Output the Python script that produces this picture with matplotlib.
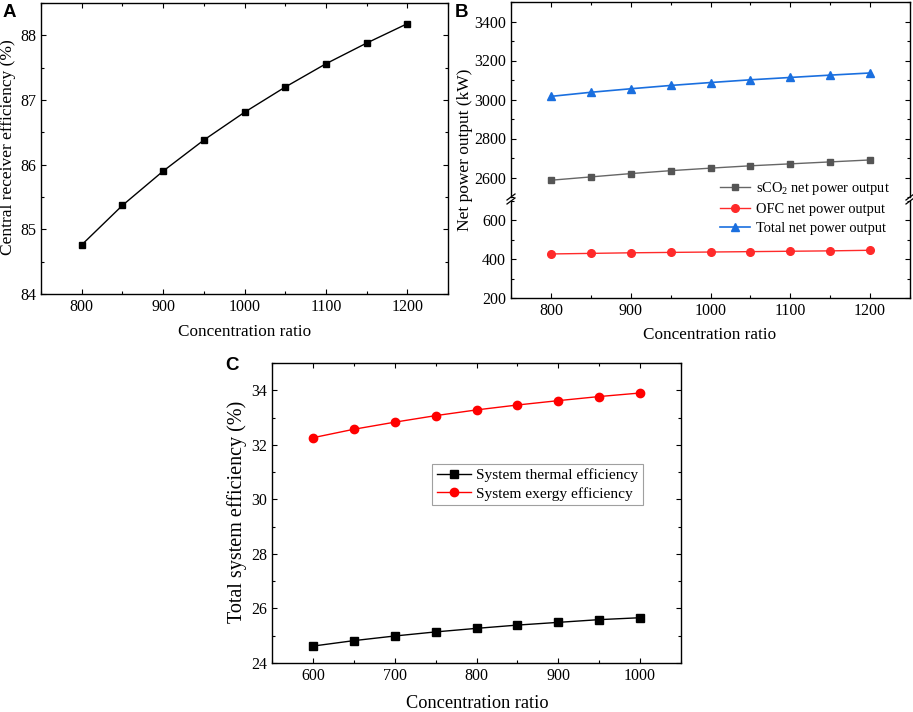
import matplotlib
matplotlib.use("Agg")
import matplotlib.pyplot as plt
from matplotlib.ticker import MultipleLocator
from matplotlib.lines import Line2D

plt.rcParams['font.family'] = ['Liberation Serif', 'DejaVu Serif']
plt.rcParams['mathtext.fontset'] = 'custom'
plt.rcParams['mathtext.rm'] = 'Liberation Serif'
plt.rcParams['mathtext.it'] = 'Liberation Serif:italic'

# ---- data ----
cr_a = [800, 850, 900, 950, 1000, 1050, 1100, 1150, 1200]
receiver_eff = [84.76, 85.37, 85.90, 86.38, 86.81, 87.20, 87.56, 87.88, 88.18]

cr_b = [800, 850, 900, 950, 1000, 1050, 1100, 1150, 1200]
sco2_power = [2586, 2603, 2620, 2635, 2648, 2660, 2670, 2680, 2690]
ofc_power = [427, 430, 433, 435, 437, 439, 441, 443, 446]
total_power = [3016, 3037, 3055, 3072, 3087, 3101, 3113, 3125, 3136]

cr_c = [600, 650, 700, 750, 800, 850, 900, 950, 1000]
thermal_eff = [24.62, 24.82, 24.99, 25.14, 25.27, 25.39, 25.49, 25.59, 25.66]
exergy_eff = [32.26, 32.57, 32.83, 33.07, 33.28, 33.46, 33.62, 33.77, 33.90]

W, H = 913, 712
fig = plt.figure(figsize=(W / 100, H / 100), dpi=100)


def rect(l, r, t, b):
    return [l / W, 1 - b / H, (r - l) / W, (b - t) / H]


TICK_FS = 11.5


def style(ax, top=True, bottom=True):
    ax.tick_params(which='both', direction='in', top=top, bottom=bottom,
                   right=True, left=True, labelsize=TICK_FS, width=0.8)
    ax.tick_params(which='major', length=3.8)
    ax.tick_params(which='minor', length=2.2)
    for s in ax.spines.values():
        s.set_linewidth(1.0)


# ---- panel A ----
axA = fig.add_axes(rect(41, 448, 3, 294))
axA.plot(cr_a, receiver_eff, color='black', lw=1.0, marker='s', ms=4.5)
axA.set_xlim(750, 1250)
axA.set_ylim(84, 88.5)
axA.xaxis.set_major_locator(MultipleLocator(100))
axA.xaxis.set_minor_locator(MultipleLocator(50))
axA.yaxis.set_major_locator(MultipleLocator(1))
axA.yaxis.set_minor_locator(MultipleLocator(0.5))
style(axA)
fig.text(8 / W, 1 - 147 / H, 'Central receiver efficiency (%)', rotation=90,
         ha='center', va='center', fontsize=12.5)
fig.text(245 / W, 1 - 332 / H, 'Concentration ratio', ha='center', va='center',
         fontsize=12.3)
fig.text(3 / W, 1 - 4 / H, 'A', ha='left', va='top', fontsize=13.5,
         fontweight='bold', family='Liberation Sans')

# ---- panel B (broken axis) ----
axBu = fig.add_axes(rect(511, 910, 2, 197))
axBl = fig.add_axes(rect(511, 910, 201, 298))
gray = '#555555'
red = '#ff2a2a'
blue = '#1a6fdf'
for ax in (axBu, axBl):
    ax.plot(cr_b, sco2_power, color='#666666', lw=1.0, marker='s', ms=5,
            mfc=gray, mec=gray)
    ax.plot(cr_b, ofc_power, color=red, lw=1.0, marker='o', ms=5.5)
    ax.plot(cr_b, total_power, color=blue, lw=1.2, marker='^', ms=6)
    ax.set_xlim(750, 1250)
    ax.xaxis.set_major_locator(MultipleLocator(100))
    ax.xaxis.set_minor_locator(MultipleLocator(50))
    ax.yaxis.set_major_locator(MultipleLocator(200))
    ax.yaxis.set_minor_locator(MultipleLocator(100))
axBu.set_ylim(2500, 3500)
axBl.set_ylim(200, 700)
axBu.spines['bottom'].set_visible(False)
axBl.spines['top'].set_visible(False)
style(axBu, top=True, bottom=False)
style(axBl, top=False, bottom=True)
axBu.tick_params(labelbottom=False)
# break marks
for xp in (511, 910):
    for dy in (-2, 2):
        y0 = 199 + dy
        fig.add_artist(Line2D([(xp - 4) / W, (xp + 4) / W],
                              [1 - (y0 + 3) / H, 1 - (y0 - 3) / H],
                              color='black', lw=0.9))
leg_handles = [
    Line2D([], [], color='#666666', lw=1.0, marker='s', ms=5, mfc=gray, mec=gray),
    Line2D([], [], color=red, lw=1.0, marker='o', ms=5.5),
    Line2D([], [], color=blue, lw=1.2, marker='^', ms=6),
]
leg_labels = [r'sCO$_2$ net power output', 'OFC net power output',
              'Total net power output']
fig.legend(leg_handles, leg_labels, loc='upper left',
           bbox_to_anchor=(720 / W, 1 - 180 / H), frameon=False,
           fontsize=10.4, handlelength=2.1, handletextpad=0.4,
           labelspacing=0.42, borderaxespad=0, borderpad=0)
fig.text(465 / W, 1 - 150 / H, 'Net power output (kW)', rotation=90,
         ha='center', va='center', fontsize=12.5)
fig.text(710 / W, 1 - 335 / H, 'Concentration ratio', ha='center', va='center',
         fontsize=12.3)
fig.text(455 / W, 1 - 4 / H, 'B', ha='left', va='top', fontsize=13.5,
         fontweight='bold', family='Liberation Sans')

# ---- panel C ----
axC = fig.add_axes(rect(272, 681, 363, 663))
axC.plot(cr_c, thermal_eff, color='black', lw=1.0, marker='s', ms=5.5,
         label='System thermal efficiency')
axC.plot(cr_c, exergy_eff, color='#ff0000', lw=1.0, marker='o', ms=6,
         label='System exergy efficiency')
axC.set_xlim(550, 1050)
axC.set_ylim(24, 35)
axC.xaxis.set_major_locator(MultipleLocator(100))
axC.xaxis.set_minor_locator(MultipleLocator(50))
axC.yaxis.set_major_locator(MultipleLocator(2))
axC.yaxis.set_minor_locator(MultipleLocator(1))
style(axC)
legC = axC.legend(loc='upper left', bbox_to_anchor=((432 - 272) / 409, (663 - 464) / 300),
                  fontsize=11.1, frameon=True, fancybox=False, edgecolor='#888888',
                  handlelength=2.2, handletextpad=0.35, labelspacing=0.28,
                  borderpad=0.3, borderaxespad=0)
legC.get_frame().set_linewidth(0.8)
fig.text(237 / W, 1 - 512 / H, 'Total system efficiency (%)', rotation=90,
         ha='center', va='center', fontsize=14.5)
fig.text(477 / W, 1 - 703 / H, 'Concentration ratio', ha='center', va='center',
         fontsize=13.2)
fig.text(225 / W, 1 - 357 / H, 'C', ha='left', va='top', fontsize=13.5,
         fontweight='bold', family='Liberation Sans')

fig.savefig('out.png', dpi=100)
